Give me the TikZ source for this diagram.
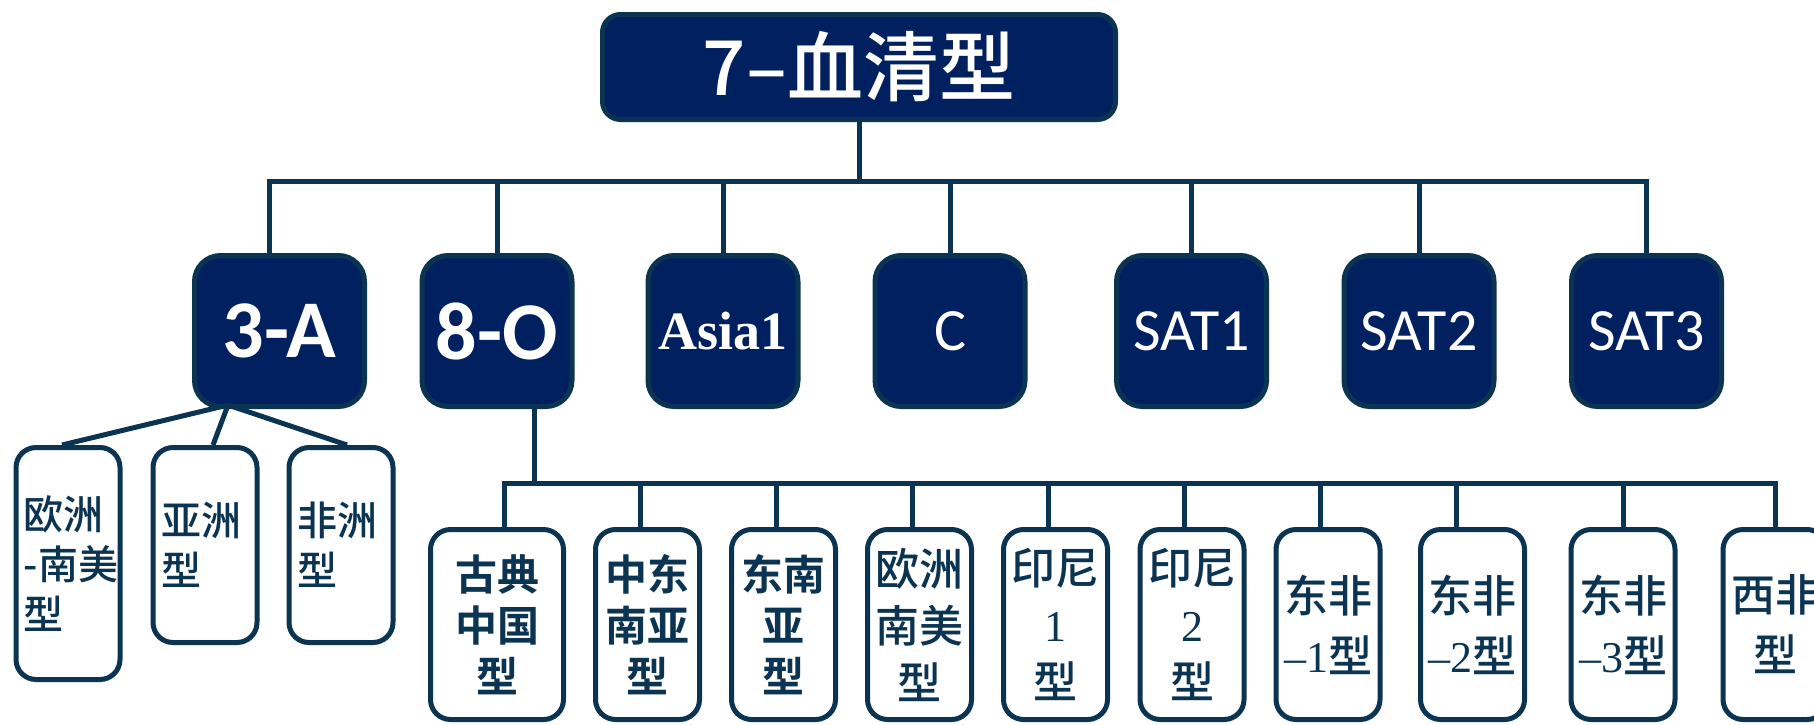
\documentclass[tikz,border=0pt]{standalone}
\usepackage{fontspec}
\newfontfamily\cjksans{Noto Sans CJK SC}
\newfontfamily\cjkmed{Noto Sans CJK SC Medium}
\newfontfamily\cjkbold{Noto Sans CJK SC Bold}
\newfontfamily\carlito{Carlito}
\newfontfamily\libserif{Liberation Serif}
\newcommand\lat[1]{{\libserif #1}}
\definecolor{navy}{RGB}{1,32,96}
\definecolor{edge}{RGB}{11,51,82}
\tikzset{
  topbox/.style={draw=edge, fill=navy, line width=2.5pt, rounded corners=13pt, text=white, inner sep=0pt,
    minimum width=75pt, minimum height=75.5pt},
  kidbox/.style={draw=edge, fill=white, line width=2.5pt, rounded corners=10pt, text=edge, inner sep=0pt, align=center,
    minimum width=52pt, minimum height=95pt},
  akid/.style={draw=edge, fill=white, line width=2.5pt, rounded corners=10pt, text=edge, inner ysep=0pt, inner xsep=4pt,
    text width=44pt, align=left, minimum height=97.5pt, font=\cjkmed\fontsize{20}{25}\selectfont},
  sansk/.style={font=\cjkbold\fontsize{21}{25.5}\selectfont},
  serifk/.style={font=\cjkmed\fontsize{22}{28.5}\selectfont},
  serifm/.style={font=\cjkmed\fontsize{22}{30}\selectfont},
  conn/.style={draw=edge, line width=2.5pt},
}
\begin{document}
\begin{tikzpicture}[x=0.5pt,y=-0.5pt]
\useasboundingbox (0,0) rectangle (1814,724);
\clip (0,0) rectangle (1814,724);

% root
\node[topbox, rounded corners=9pt, minimum width=256.5pt, minimum height=52.5pt,
  font=\cjkmed\fontsize{38}{38}\selectfont] (root) at (859,67) {7–血清型};

% middle row
\node[topbox, minimum width=85pt, font=\carlito\bfseries\fontsize{41}{41}\selectfont] (a3) at (279.5,331) {3-A};
\node[topbox, font=\carlito\bfseries\fontsize{41}{41}\selectfont] (o8) at (497,331) {8-O};
\node[topbox, font=\libserif\bfseries\fontsize{27}{27}\selectfont] (asia) at (723,331) {Asia1};
\node[topbox, font=\carlito\fontsize{30}{30}\selectfont] (c) at (950,331) {C};
\node[topbox, font=\carlito\fontsize{30}{30}\selectfont] (s1) at (1191.5,331) {SAT1};
\node[topbox, font=\carlito\fontsize{30}{30}\selectfont] (s2) at (1419,331) {SAT2};
\node[topbox, font=\carlito\fontsize{30}{30}\selectfont] (s3) at (1646.5,331) {SAT3};

% 3-A children
\node[akid, minimum height=116pt] (k1) at (68,563.5) {欧洲\\\mbox{-南美}\\型};
\node[akid] (k2) at (205,545) {亚洲\\型};
\node[akid] (k3) at (341,545) {非洲\\型};

% 8-O children
\node[kidbox, minimum width=66.5pt, sansk] (l1) at (497,624.5) {古典\\中国\\型};
\node[kidbox, sansk] (l2) at (647.5,624.5) {中东\\南亚\\型};
\node[kidbox, sansk] (l3) at (783.5,624.5) {东南\\亚\\型};
\node[kidbox, serifk] (l4) at (919.5,624.5) {欧洲\\南美\\型};
\node[kidbox, serifk] (l5) at (1055.5,624.5) {印尼\\\lat{1}\\型};
\node[kidbox, serifk] (l6) at (1192,624.5) {印尼\\\lat{2}\\型};
\node[kidbox, serifm] (l7) at (1328,624.5) {东非\\\lat{–1}型};
\node[kidbox, serifm] (l8) at (1472.5,624.5) {东非\\\lat{–2}型};
\node[kidbox, serifm] (l9) at (1623,624.5) {东非\\\lat{–3}型};
\node[kidbox, serifm] (l10) at (1775,624.5) {西非\\型};

% connectors: root to middle row
\coordinate (bus1) at (859,181);
\draw[conn] (root.south) -- (bus1);
\draw[conn] ([xshift=-5pt]a3.north) |- (bus1) -| (s3.north);
\foreach \n in {o8,asia,c,s1,s2}
  \draw[conn] (\n.north) -- (\n.north |- bus1);

% 3-A fan
\coordinate (apex) at (228,405);
\draw[conn, line join=round] (apex) -- ([xshift=-3pt]k1.north);
\draw[conn, line join=round] (apex) -- ([xshift=4pt]k2.north);
\draw[conn, line join=round] (apex) -- ([xshift=3pt]k3.north);

% 8-O tree
\coordinate (o8out) at ([xshift=18.5pt]o8.south);
\coordinate (bus2) at (534,483);
\draw[conn] (o8out) -- (bus2);
\draw[conn] ([xshift=3.5pt]l1.north) |- (bus2) -| (l10.north);
\foreach \n/\d in {l2/-3.75,l3/-3.75,l4/-3.75,l5/-3.75,l6/-4,l7/-4,l8/-8.25,l9/0}
  \draw[conn] ([xshift=\d pt]\n.north) -- ([xshift=\d pt]\n.north |- bus2);
\end{tikzpicture}
\end{document}
